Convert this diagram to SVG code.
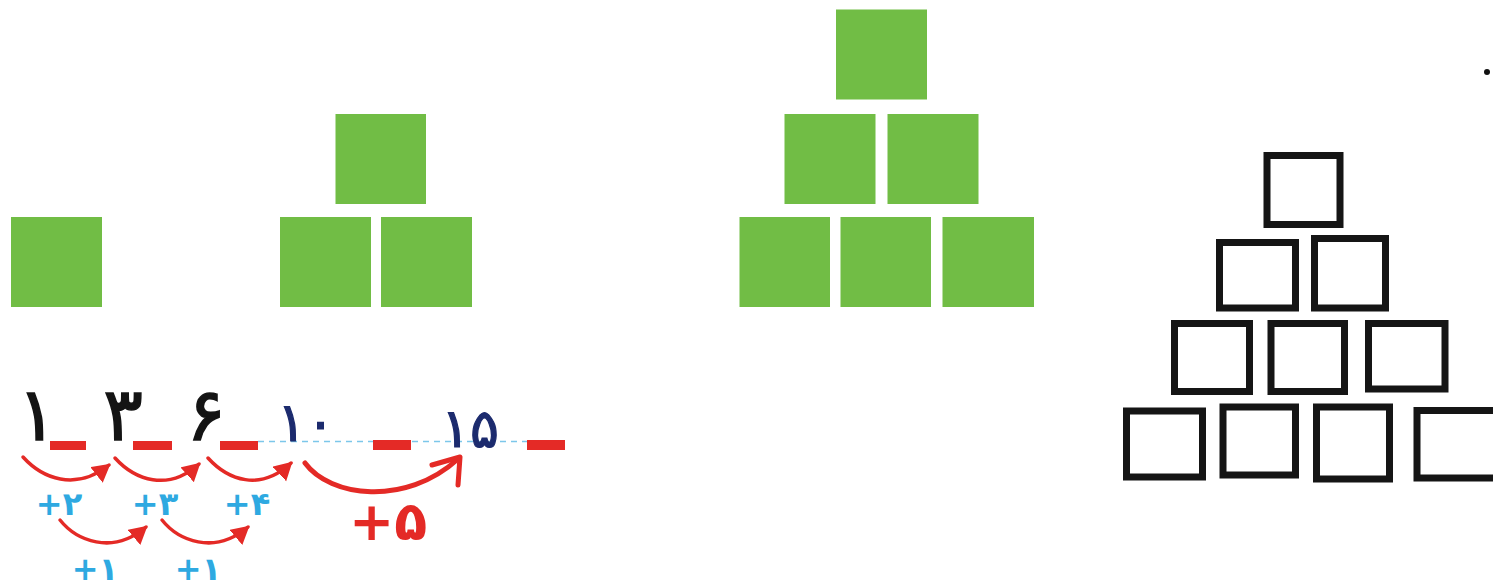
<svg xmlns="http://www.w3.org/2000/svg" width="1493" height="586" viewBox="0 0 1493 586">
<style>
.g{fill:#71bd45}
.b{fill:none;stroke:#151515;stroke-width:7}
.dash{fill:#e42a26}
.arc{fill:none;stroke:#e42a26;stroke-width:3.5;stroke-linecap:round}
.big{fill:none;stroke:#e42a26;stroke-width:5;stroke-linecap:round;stroke-linejoin:round}
.num{font-family:"DejaVu Sans",sans-serif;font-weight:bold;text-anchor:middle}
.blk{fill:#141414;font-size:74px;font-weight:normal;stroke:#141414;stroke-width:1.5}
.nav{fill:#1c2b6e;font-size:54px;font-weight:normal;stroke:#1c2b6e;stroke-width:1.2}
.blu{fill:#2ea9e1;font-size:32px;font-family:"DejaVu Sans",sans-serif;font-weight:bold;text-anchor:middle;letter-spacing:-2px}
.red{fill:#e42a26;font-size:54px}
</style>
<defs>
<marker id="ah" markerUnits="userSpaceOnUse" markerWidth="22" markerHeight="22" refX="16" refY="10" orient="auto">
<path d="M0,0 L18,10 L0,20 Z" fill="#e42a26"/>
</marker>
</defs>
<rect width="1493" height="586" fill="#fff"/>
<g id="fig1">
<rect class="g" x="11" y="217" width="91" height="90"/>
</g>
<g id="fig2">
<rect class="g" x="335.5" y="114" width="90.5" height="90"/>
<rect class="g" x="280" y="217" width="91" height="90"/>
<rect class="g" x="381" y="217" width="91" height="90"/>
</g>
<g id="fig3">
<rect class="g" x="836" y="9.5" width="91" height="90"/>
<rect class="g" x="784.5" y="114" width="91" height="90"/>
<rect class="g" x="887.5" y="114" width="91" height="90"/>
<rect class="g" x="739.5" y="217" width="90.5" height="90"/>
<rect class="g" x="840.5" y="217" width="90.5" height="90"/>
<rect class="g" x="942.5" y="217" width="91.5" height="90"/>
</g>
<g id="fig4">
<rect class="b" x="1267" y="155.5" width="73" height="69"/>
<rect class="b" x="1219.5" y="242.5" width="76" height="65.5"/>
<rect class="b" x="1314.5" y="238.5" width="71" height="69.5"/>
<rect class="b" x="1174.5" y="323.5" width="75" height="68"/>
<rect class="b" x="1271" y="323.5" width="73.5" height="68"/>
<rect class="b" x="1368.5" y="323.5" width="76.5" height="65.5"/>
<rect class="b" x="1126.5" y="411" width="76" height="66"/>
<rect class="b" x="1223" y="407" width="72.5" height="68"/>
<rect class="b" x="1316.5" y="407" width="73" height="72"/>
<rect class="b" x="1417" y="410.5" width="84" height="67.5"/>
</g>
<circle cx="1487" cy="72" r="3" fill="#111"/>
<g id="sequence">
<line x1="258" y1="441.5" x2="527" y2="441.5" stroke="#7cc7ea" stroke-width="1.5" stroke-dasharray="6 5"/>
<rect class="dash" x="50" y="441" width="36" height="9"/>
<rect class="dash" x="133" y="441" width="39" height="9"/>
<rect class="dash" x="220" y="441" width="38" height="9"/>
<rect class="dash" x="373" y="440" width="38" height="10"/>
<rect class="dash" x="527" y="440" width="38" height="10"/>
<text class="num blk" x="37" y="440">۱</text>
<text class="num blk" x="123" y="440">۳</text>
<text class="num blk" x="206" y="440">۶</text>
<text class="num nav" x="306" y="441" letter-spacing="6">۱۰</text>
<text class="num nav" x="470" y="447">۱۵</text>
</g>
<g id="connectors">
<path class="arc" d="M23,457 C42,478 75,492 109,465" marker-end="url(#ah)"/>
<path class="arc" d="M115,458 C135,480 168,492 199,464" marker-end="url(#ah)"/>
<path class="arc" d="M208,458 C228,480 260,492 291,463" marker-end="url(#ah)"/>
<path class="big" d="M305,463 C330,497 405,507 458,459"/>
<path class="big" d="M432,465 L460,457 L458,485"/>
<path class="arc" d="M60,520 C76,540 112,556 146,527" marker-end="url(#ah)"/>
<path class="arc" d="M162,520 C178,540 214,556 248,527" marker-end="url(#ah)"/>
</g>
<g id="labels">
<text class="blu" x="59" y="515">+۲</text>
<text class="blu" x="155" y="515">+۳</text>
<text class="blu" x="247" y="515">+۴</text>
<text class="blu" x="95" y="580">+۱</text>
<text class="blu" x="198" y="580">+۱</text>
<text class="num red" x="388" y="540">+۵</text>
</g>
</svg>
